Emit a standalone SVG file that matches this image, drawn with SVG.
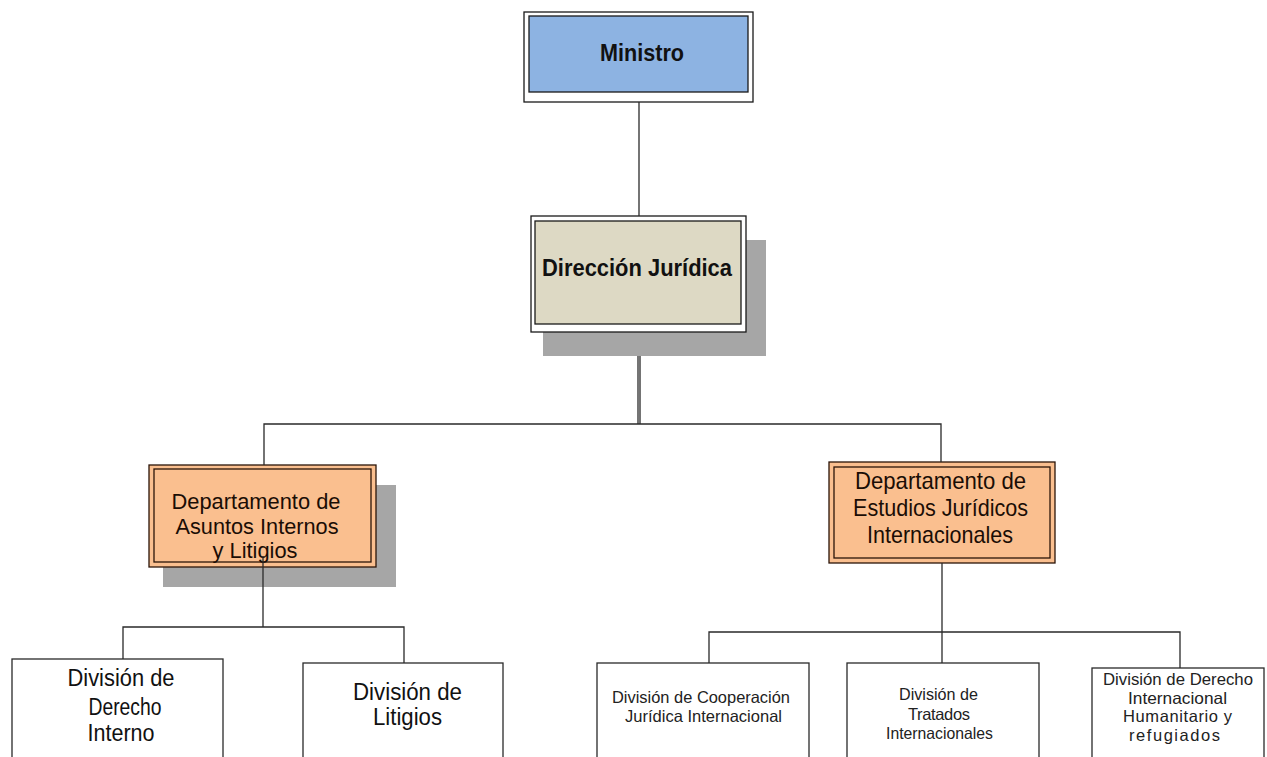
<svg xmlns="http://www.w3.org/2000/svg" width="1267" height="757" viewBox="0 0 1267 757">
  <style>
    .bg { fill: #ffffff; }
    .shadow { fill: #a6a6a6; }
    .frame { fill: #ffffff; stroke: #1a1a1a; stroke-width: 1.3; }
    .blue { fill: #8db3e2; stroke: #1a1a1a; stroke-width: 1.3; }
    .beige { fill: #ddd9c4; stroke: #1a1a1a; stroke-width: 1.3; }
    .orange { fill: #fabf8f; stroke: #2b1408; stroke-width: 1.3; }
    .plain { fill: #ffffff; stroke: #2a2a2a; stroke-width: 1.3; }
    .wire { fill: none; stroke: #2a2a2a; stroke-width: 1.3; }
    text { font-family: "Liberation Sans", Arial, sans-serif; text-anchor: middle; fill: #111111; }
    .title { font-size: 24px; font-weight: bold; }
    .dept { font-size: 24px; fill: #1a0d05; }
    .dept-l { font-size: 22.5px; fill: #1a0d05; }
    .div { font-size: 23px; }
    .small { font-size: 16.5px; fill: #222222; }
  </style>

  <rect class="bg" x="0" y="0" width="1267" height="757"/>

  <!-- Top: minister -->
  <g id="ministro">
    <rect class="frame" x="524" y="12" width="229" height="90"/>
    <rect class="blue" x="529" y="16" width="219" height="76"/>
    <text class="title" x="642" y="61" textLength="84" lengthAdjust="spacingAndGlyphs">Ministro</text>
  </g>

  <!-- Legal directorate -->
  <g id="direccion-juridica">
    <rect class="shadow" x="543" y="240" width="223" height="116"/>
    <rect class="frame" x="531" y="216" width="215" height="116"/>
    <rect class="beige" x="535" y="221" width="206" height="103"/>
    <text class="title" x="637" y="276" textLength="190" lengthAdjust="spacingAndGlyphs">Dirección Jurídica</text>
  </g>

  <!-- Department: internal affairs and litigation -->
  <g id="depto-asuntos-internos">
    <rect class="shadow" x="163" y="485" width="233" height="102"/>
    <rect class="orange" x="149" y="465" width="227" height="102"/>
    <rect class="orange" x="154" y="469" width="217" height="93"/>
    <text class="dept-l" x="256" y="509" textLength="169" lengthAdjust="spacingAndGlyphs">Departamento de</text>
    <text class="dept-l" x="257" y="534" textLength="163" lengthAdjust="spacingAndGlyphs">Asuntos Internos</text>
    <text class="dept-l" x="255" y="558" textLength="85" lengthAdjust="spacingAndGlyphs">y Litigios</text>
  </g>

  <!-- Department: international legal studies -->
  <g id="depto-estudios-internacionales">
    <rect class="orange" x="829" y="462" width="226" height="101"/>
    <rect class="orange" x="834" y="467" width="216" height="91"/>
    <text class="dept" x="940.5" y="489" textLength="171" lengthAdjust="spacingAndGlyphs">Departamento de</text>
    <text class="dept" x="940.5" y="516" textLength="175" lengthAdjust="spacingAndGlyphs">Estudios Jurídicos</text>
    <text class="dept" x="940" y="543" textLength="146" lengthAdjust="spacingAndGlyphs">Internacionales</text>
  </g>

  <!-- Divisions under internal affairs -->
  <g id="div-derecho-interno">
    <rect class="plain" x="12" y="659" width="211" height="110"/>
    <text class="div" x="121" y="686" textLength="107" lengthAdjust="spacingAndGlyphs">División de</text>
    <text class="div" x="125" y="715" textLength="73" lengthAdjust="spacingAndGlyphs">Derecho</text>
    <text class="div" x="121" y="741" textLength="67" lengthAdjust="spacingAndGlyphs">Interno</text>
  </g>

  <g id="div-litigios">
    <rect class="plain" x="303" y="663" width="200" height="110"/>
    <text class="div" x="407.5" y="700" textLength="109" lengthAdjust="spacingAndGlyphs">División de</text>
    <text class="div" x="407.5" y="725" textLength="69" lengthAdjust="spacingAndGlyphs">Litigios</text>
  </g>

  <!-- Divisions under international studies -->
  <g id="div-cooperacion">
    <rect class="plain" x="597" y="663" width="212" height="110"/>
    <text class="small" x="701" y="703" textLength="178" lengthAdjust="spacingAndGlyphs">División de Cooperación</text>
    <text class="small" x="703.5" y="722" textLength="157" lengthAdjust="spacingAndGlyphs">Jurídica Internacional</text>
  </g>

  <g id="div-tratados">
    <rect class="plain" x="847" y="663" width="192" height="110"/>
    <text class="small" x="938.5" y="700" textLength="79" lengthAdjust="spacingAndGlyphs">División de</text>
    <text class="small" x="939" y="720" textLength="62" lengthAdjust="spacing">Tratados</text>
    <text class="small" x="939.5" y="739" textLength="107" lengthAdjust="spacingAndGlyphs">Internacionales</text>
  </g>

  <g id="div-derecho-humanitario">
    <rect class="plain" x="1092" y="668" width="172" height="110"/>
    <text class="small" x="1178" y="685" textLength="150" lengthAdjust="spacingAndGlyphs">División de Derecho</text>
    <text class="small" x="1177.5" y="704" textLength="99" lengthAdjust="spacingAndGlyphs">Internacional</text>
    <text class="small" x="1177.5" y="722" textLength="109" lengthAdjust="spacing">Humanitario  y</text>
    <text class="small" x="1174.5" y="741" textLength="91" lengthAdjust="spacing">refugiados</text>
  </g>

  <!-- Connectors -->
  <g id="connectors" class="wire">
    <path d="M639 102 V216"/>
    <path d="M638 356 V424 M640 356 V424"/>
    <path d="M264 465 V424 H941 V462"/>
    <path d="M263 556 V627"/>
    <path d="M123 659 V627 H404 V663"/>
    <path d="M942 563 V663"/>
    <path d="M709 663 V632 H1180 V668"/>
  </g>
</svg>
